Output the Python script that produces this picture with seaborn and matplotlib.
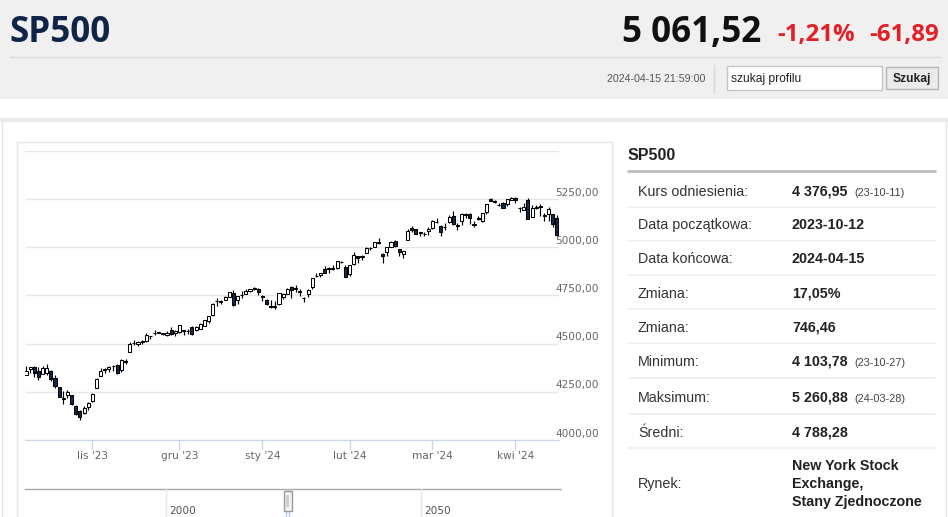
import matplotlib
matplotlib.use('agg')
import matplotlib.pyplot as plt
from matplotlib.patches import Rectangle
from matplotlib.lines import Line2D
import matplotlib.transforms as mtransforms
import numpy as np
import seaborn as sns

# daily quotes (trading days only)
dates = [
    '2023-10-10', '2023-10-11', '2023-10-12', '2023-10-13', '2023-10-16', '2023-10-17', '2023-10-18', '2023-10-19',
    '2023-10-20', '2023-10-23', '2023-10-24', '2023-10-25', '2023-10-26', '2023-10-27', '2023-10-30', '2023-10-31',
    '2023-11-01', '2023-11-02', '2023-11-03', '2023-11-06', '2023-11-07', '2023-11-08', '2023-11-09', '2023-11-10',
    '2023-11-13', '2023-11-14', '2023-11-15', '2023-11-16', '2023-11-17', '2023-11-20', '2023-11-21', '2023-11-22',
    '2023-11-24', '2023-11-27', '2023-11-28', '2023-11-29', '2023-11-30',
    '2023-12-01', '2023-12-04', '2023-12-05', '2023-12-06', '2023-12-07', '2023-12-08', '2023-12-11', '2023-12-12',
    '2023-12-13', '2023-12-14', '2023-12-15', '2023-12-18', '2023-12-19', '2023-12-20', '2023-12-21', '2023-12-22',
    '2023-12-26', '2023-12-27', '2023-12-28', '2023-12-29',
    '2024-01-02', '2024-01-03', '2024-01-04', '2024-01-05', '2024-01-08', '2024-01-09', '2024-01-10', '2024-01-11',
    '2024-01-12', '2024-01-16', '2024-01-17', '2024-01-18', '2024-01-19', '2024-01-22', '2024-01-23', '2024-01-24',
    '2024-01-25', '2024-01-26', '2024-01-29', '2024-01-30', '2024-01-31',
    '2024-02-01', '2024-02-02', '2024-02-05', '2024-02-06', '2024-02-07', '2024-02-08', '2024-02-09', '2024-02-12',
    '2024-02-13', '2024-02-14', '2024-02-15', '2024-02-16', '2024-02-20', '2024-02-21', '2024-02-22', '2024-02-23',
    '2024-02-26', '2024-02-27', '2024-02-28', '2024-02-29',
    '2024-03-01', '2024-03-04', '2024-03-05', '2024-03-06', '2024-03-07', '2024-03-08', '2024-03-11', '2024-03-12',
    '2024-03-13', '2024-03-14', '2024-03-15', '2024-03-18', '2024-03-19', '2024-03-20', '2024-03-21', '2024-03-22',
    '2024-03-25', '2024-03-26', '2024-03-27', '2024-03-28',
    '2024-04-01', '2024-04-02', '2024-04-03', '2024-04-04', '2024-04-05', '2024-04-08', '2024-04-09', '2024-04-10',
    '2024-04-11', '2024-04-12', '2024-04-15',
]

opens = [
    4339.75, 4366.59, 4380.94, 4360.49, 4342.37, 4345.23, 4357.35, 4321.36, 4273.85, 4210.40, 4235.79, 4232.42,
    4175.99, 4152.93, 4139.39, 4171.33,
    4201.27, 4268.26, 4334.23, 4364.27, 4366.21, 4384.37, 4391.41, 4364.15, 4406.66, 4458.97, 4505.30, 4497.08,
    4509.55, 4511.70, 4538.77, 4553.04, 4555.84, 4554.86, 4545.55, 4571.84, 4554.87,
    4559.43, 4564.37, 4566.75, 4586.23, 4568.84, 4576.20, 4593.39, 4618.30, 4646.20, 4721.04, 4714.23, 4725.58,
    4743.72, 4764.73, 4724.29, 4753.92, 4758.86, 4773.45, 4786.44, 4782.88,
    4745.20, 4725.07, 4697.42, 4690.57, 4703.70, 4741.93, 4759.94, 4792.13, 4791.18, 4772.35, 4739.13, 4760.10,
    4796.28, 4853.42, 4856.80, 4888.56, 4886.66, 4888.91, 4892.95, 4925.89, 4899.19,
    4861.11, 4916.06, 4957.19, 4950.16, 4973.05, 4995.16, 5004.17, 5026.83, 4967.94, 4976.44, 5003.14, 5031.13,
    4989.32, 4963.03, 5038.83, 5100.92, 5093.00, 5074.60, 5067.20, 5085.36,
    5098.51, 5130.99, 5110.52, 5108.03, 5132.38, 5164.46, 5111.96, 5134.30, 5173.49, 5175.14, 5123.31, 5154.77,
    5139.09, 5181.69, 5253.43, 5242.48, 5219.52, 5228.85, 5226.31, 5248.03,
    5257.97, 5204.29, 5194.37, 5244.05, 5158.95, 5211.37, 5217.03, 5167.88, 5172.95, 5171.51, 5149.67,
]

highs = [
    4385.46, 4378.64, 4385.85, 4377.10, 4383.33, 4393.57, 4364.20, 4339.54, 4276.56, 4255.84, 4259.38, 4232.42,
    4183.60, 4156.70, 4177.47, 4195.55,
    4245.64, 4319.72, 4373.62, 4372.21, 4386.26, 4391.20, 4393.40, 4418.03, 4421.76, 4508.67, 4521.17, 4511.99,
    4520.12, 4557.11, 4542.14, 4568.43, 4560.31, 4557.66, 4568.14, 4587.64, 4569.89,
    4599.39, 4572.37, 4578.56, 4590.74, 4590.92, 4609.23, 4623.71, 4643.93, 4709.69, 4738.57, 4725.53, 4749.52,
    4768.69, 4778.01, 4748.71, 4772.94, 4784.72, 4785.39, 4793.30, 4788.43,
    4754.33, 4729.29, 4726.78, 4721.49, 4764.54, 4765.47, 4790.80, 4798.50, 4802.40, 4782.34, 4744.23, 4785.79,
    4842.07, 4868.41, 4866.48, 4903.68, 4898.15, 4906.69, 4929.31, 4931.09, 4906.75,
    4906.97, 4975.29, 4957.19, 4957.77, 4999.89, 5000.40, 5030.06, 5048.39, 4971.30, 5002.52, 5032.72, 5038.70,
    4993.71, 4983.21, 5094.39, 5111.06, 5097.66, 5080.69, 5077.37, 5104.99,
    5140.33, 5149.67, 5114.54, 5127.97, 5165.62, 5189.26, 5124.66, 5179.87, 5179.14, 5176.85, 5136.86, 5164.81,
    5180.31, 5226.19, 5257.20, 5246.09, 5229.09, 5235.16, 5249.26, 5260.88,
    5259.00, 5208.34, 5228.75, 5256.59, 5222.18, 5219.57, 5224.81, 5178.43, 5211.78, 5175.03, 5168.43,
]

lows = [
    4339.64, 4345.34, 4325.43, 4311.97, 4342.37, 4337.54, 4303.84, 4269.69, 4223.03, 4189.22, 4219.43, 4181.42,
    4127.90, 4103.78, 4132.94, 4153.12,
    4197.74, 4268.26, 4334.23, 4347.53, 4355.41, 4359.76, 4343.94, 4353.34, 4393.82, 4458.97, 4495.31, 4487.83,
    4499.66, 4510.36, 4525.51, 4545.05, 4552.80, 4544.35, 4540.51, 4547.15, 4537.24,
    4554.71, 4546.72, 4551.68, 4546.50, 4565.22, 4574.06, 4593.39, 4608.09, 4643.23, 4694.34, 4704.69, 4725.58,
    4743.72, 4697.82, 4708.35, 4736.77, 4758.45, 4768.90, 4780.98, 4751.99,
    4722.67, 4699.71, 4687.53, 4682.11, 4699.82, 4730.35, 4756.20, 4739.58, 4768.98, 4747.12, 4714.82, 4740.57,
    4785.87, 4844.05, 4844.37, 4865.94, 4869.34, 4881.47, 4887.40, 4916.27, 4845.15,
    4853.52, 4907.99, 4918.09, 4934.88, 4969.05, 4987.09, 5000.34, 5016.83, 4920.31, 4956.45, 4999.44, 4999.52,
    4955.02, 4946.00, 5038.83, 5081.46, 5068.91, 5057.29, 5058.35, 5061.89,
    5094.16, 5127.18, 5056.82, 5092.22, 5128.21, 5117.50, 5091.14, 5114.48, 5151.88, 5123.30, 5104.35, 5144.12,
    5131.59, 5171.55, 5240.66, 5229.87, 5216.09, 5203.42, 5213.92, 5245.82,
    5229.20, 5184.05, 5194.37, 5146.06, 5157.21, 5197.35, 5160.78, 5138.70, 5138.77, 5107.94, 5052.47,
]

closes = [
    4358.24, 4376.95, 4349.61, 4327.78, 4373.63, 4373.20, 4314.60, 4278.00, 4224.16, 4217.04, 4247.68, 4186.77,
    4137.23, 4117.37, 4166.82, 4193.80,
    4237.86, 4317.78, 4358.34, 4365.98, 4378.38, 4382.78, 4347.35, 4415.24, 4411.55, 4495.70, 4502.88, 4508.24,
    4514.02, 4547.38, 4538.19, 4556.62, 4559.34, 4550.43, 4554.89, 4550.58, 4567.80,
    4594.63, 4569.78, 4567.18, 4549.34, 4585.59, 4604.37, 4622.44, 4643.70, 4707.09, 4719.55, 4719.19, 4740.56,
    4768.37, 4698.35, 4746.75, 4754.63, 4774.75, 4781.58, 4783.35, 4769.83,
    4742.83, 4704.81, 4688.68, 4697.24, 4763.54, 4756.50, 4783.45, 4780.24, 4783.83, 4765.98, 4739.21, 4780.94,
    4839.81, 4850.43, 4864.60, 4868.55, 4894.16, 4890.97, 4927.93, 4924.97, 4845.65,
    4906.19, 4958.61, 4942.81, 4954.23, 4995.06, 4997.91, 5026.61, 5021.84, 4953.17, 5000.62, 5029.73, 5005.57,
    4975.51, 4981.80, 5087.03, 5088.80, 5069.53, 5078.18, 5069.76, 5096.27,
    5137.08, 5130.95, 5078.65, 5104.76, 5157.36, 5123.69, 5117.94, 5175.27, 5165.31, 5150.48, 5117.09, 5149.42,
    5178.51, 5224.62, 5241.53, 5234.18, 5218.19, 5203.58, 5248.49, 5254.35,
    5243.77, 5205.81, 5211.49, 5147.21, 5204.34, 5202.39, 5209.91, 5160.64, 5199.06, 5123.41, 5061.52,
]

month_starts = ['2023-11-01', '2023-12-01', '2024-01-02', '2024-02-01', '2024-03-01', '2024-04-01']
month_labels = ["lis '23", "gru '23", "sty '24", "lut '24", "mar '24", "kwi '24"]
y_grid = [4000, 4250, 4500, 4750, 5000, 5250, 5500]
y_labels = ['4000,00', '4250,00', '4500,00', '4750,00', '5000,00', '5250,00']

info_labels = ['Kurs odniesienia:', 'Data początkowa:', 'Data końcowa:', 'Zmiana:', 'Zmiana:',
               'Minimum:', 'Maksimum:', 'Średni:', 'Rynek:']
info_values = ['4 376,95', '2023-10-12', '2024-04-15', '17,05%', '746,46',
               '4 103,78', '5 260,88', '4 788,28', 'New York Stock\nExchange,\nStany Zjednoczone']
info_notes = ['(23-10-11)', '', '', '', '', '(23-10-27)', '(24-03-28)', '', '']

W, H = 948, 517


def fx(x):
    return x / W


def fy(y):
    return 1 - y / H


def pt(p):
    return p * 0.72


def rect(fig, x0, y0, x1, y1, zorder=-1, **kw):
    fig.patches.append(Rectangle((fx(x0), fy(y1)), (x1 - x0) / W, (y1 - y0) / H,
                                 transform=fig.transFigure, zorder=zorder, **kw))


def line(fig, x0, y0, x1, y1, zorder=-0.5, **kw):
    fig.lines.append(Line2D([fx(x0), fx(x1)], [fy(y0), fy(y1)], transform=fig.transFigure, zorder=zorder, **kw))


sns.set_style('white')
plt.rcParams['font.family'] = ['Liberation Sans', 'DejaVu Sans']

fig = plt.figure(figsize=(9.48, 5.17), dpi=100)
fig.patch.set_facecolor('white')

# header band
rect(fig, 0, 0, 948, 99, fc='#f0f0f0', ec='none', zorder=-3)
rect(fig, 0, 118, 948, 121.5, fc='#ebebeb', ec='none', zorder=-3)
line(fig, 2, 121, 2, 517, color='#e4e4e4', lw=1)
line(fig, 946, 121, 946, 517, color='#e4e4e4', lw=1)
line(fig, 10, 57, 940, 57, color='#d9d9d9', lw=1)

head = ['Open Sans', 'Liberation Sans', 'DejaVu Sans']
fig.text(fx(9), fy(42), 'SP500', fontsize=pt(35), fontweight='bold', color='#0f2447', family=head, va='baseline')
fig.text(fx(761), fy(42), '5 061,52', fontsize=pt(35), fontweight='bold', color='#111111', family=head,
         ha='right', va='baseline')
fig.text(fx(777), fy(41), '-1,21%', fontsize=pt(24), fontweight='bold', color='#e51f28', family=head, va='baseline')
fig.text(fx(869), fy(41), '-61,89', fontsize=pt(24), fontweight='bold', color='#e51f28', family=head, va='baseline')

fig.text(fx(705), fy(82), '2024-04-15 21:59:00', fontsize=pt(10.6), color='#555555', ha='right', va='baseline')
line(fig, 714, 65, 714, 93, color='#d8d8d8', lw=1)
rect(fig, 727, 66, 882, 90, fc='white', ec='#c6c6c6', lw=1)
fig.text(fx(731), fy(82), 'szukaj profilu', fontsize=pt(12), color='#222222', va='baseline')
rect(fig, 886, 67, 938, 89, fc='#ebebeb', ec='#b5b5b5', lw=1)
fig.text(fx(912), fy(82), 'Szukaj', fontsize=pt(12), fontweight='bold', color='#222222',
         ha='center', va='baseline')

# chart panel frame
rect(fig, 16.5, 141.5, 611.5, 530, fc='white', ec='#e6e6e6', lw=1, zorder=-2)

# candlestick axes
ax = fig.add_axes([fx(25), fy(440), (559 - 25) / W, (440 - 151) / H])
ax.set_zorder(1)
ax.set_facecolor('none')
idx = np.arange(len(dates))
o = np.array(opens)
c = np.array(closes)
up = c >= o
body_col = np.where(up, '#ffffff', '#0f2a4d')
ax.vlines(idx, lows, highs, color='#000000', lw=0.85, zorder=2)
ax.bar(idx, c - o, bottom=o, width=0.74, color=body_col, edgecolor='#000000', linewidth=0.75, zorder=3)

ax.set_xlim(-0.24, 128.5)
ax.set_ylim(4000, 5500)
ax.set_yticks(y_grid)
ax.yaxis.grid(True, color='#e6e6e6', lw=1)
ax.tick_params(axis='y', length=0, labelleft=False, left=False)
tick_idx = [dates.index(d) for d in month_starts]
ax.set_xticks(tick_idx)
ax.set_xticklabels(month_labels, family='DejaVu Sans', fontsize=pt(10.5), color='#666666')
ax.tick_params(axis='x', bottom=True, length=pt(10), width=1, color='#ccd6eb', pad=pt(1.0), direction='out')
sns.despine(ax=ax, left=True, right=True, top=True)
ax.spines['bottom'].set_color('#ccd6eb')
ax.spines['bottom'].set_zorder(4)

ytrans = mtransforms.blended_transform_factory(ax.transAxes, ax.transData)
for v, lab in zip(y_grid, y_labels):
    ax.annotate(lab, xy=((555 - 25) / 534, v), xycoords=ytrans, xytext=(0, pt(6.5)), textcoords='offset points',
                ha='left', va='center', family='DejaVu Sans', fontsize=pt(10.5), color='#666666',
                annotation_clip=False)

# navigator strip
line(fig, 25, 489, 561, 489, color='#a8a8a8', lw=1)
for gx, lab in [(166, '2000'), (421, '2050')]:
    line(fig, gx, 489, gx, 517, color='#e6e6e6', lw=1)
    fig.text(fx(gx + 3), fy(514), lab, fontsize=pt(10.5), color='#555555', family='DejaVu Sans', va='baseline')
line(fig, 286, 489, 286, 517, color='#b9c8e6', lw=1)
line(fig, 289, 489, 289, 517, color='#b9c8e6', lw=1)
rect(fig, 283.5, 491, 291.5, 511, fc='#f2f2f2', ec='#9a9a9a', lw=1, zorder=0)
rect(fig, 286, 495, 289, 507, fc='#cfcfcf', ec='none', zorder=0.5)

# info table
fig.text(fx(628), fy(160), 'SP500', fontsize=pt(16), fontweight='bold', color='#222222', va='baseline')
line(fig, 628, 170.5, 935, 170.5, color='#bdbdbd', lw=2)
seps = [206.7, 241, 275.3, 309.3, 343.3, 378.3, 414.3, 448.3]
for s in seps:
    line(fig, 628, s, 935, s, color='#efefef', lw=1.2)
baselines = [195.5, 229, 263.3, 297.7, 331.7, 366, 401.7, 436.7, 488]
for lab, val, note, b in zip(info_labels, info_values, info_notes, baselines):
    fig.text(fx(638), fy(b), lab, fontsize=pt(14.3), color='#333333', va='baseline')
    if '\n' in val:
        for k, part in enumerate(val.split('\n')):
            fig.text(fx(792), fy(470 + 17.8 * k), part, fontsize=pt(14.3), fontweight='bold', color='#222222',
                     va='baseline')
    else:
        fig.text(fx(792), fy(b), val, fontsize=pt(14.3), fontweight='bold', color='#222222', va='baseline')
    if note:
        fig.text(fx(854), fy(b), note, fontsize=pt(11), color='#444444', va='baseline')

plt.savefig('out.png', dpi=100)
